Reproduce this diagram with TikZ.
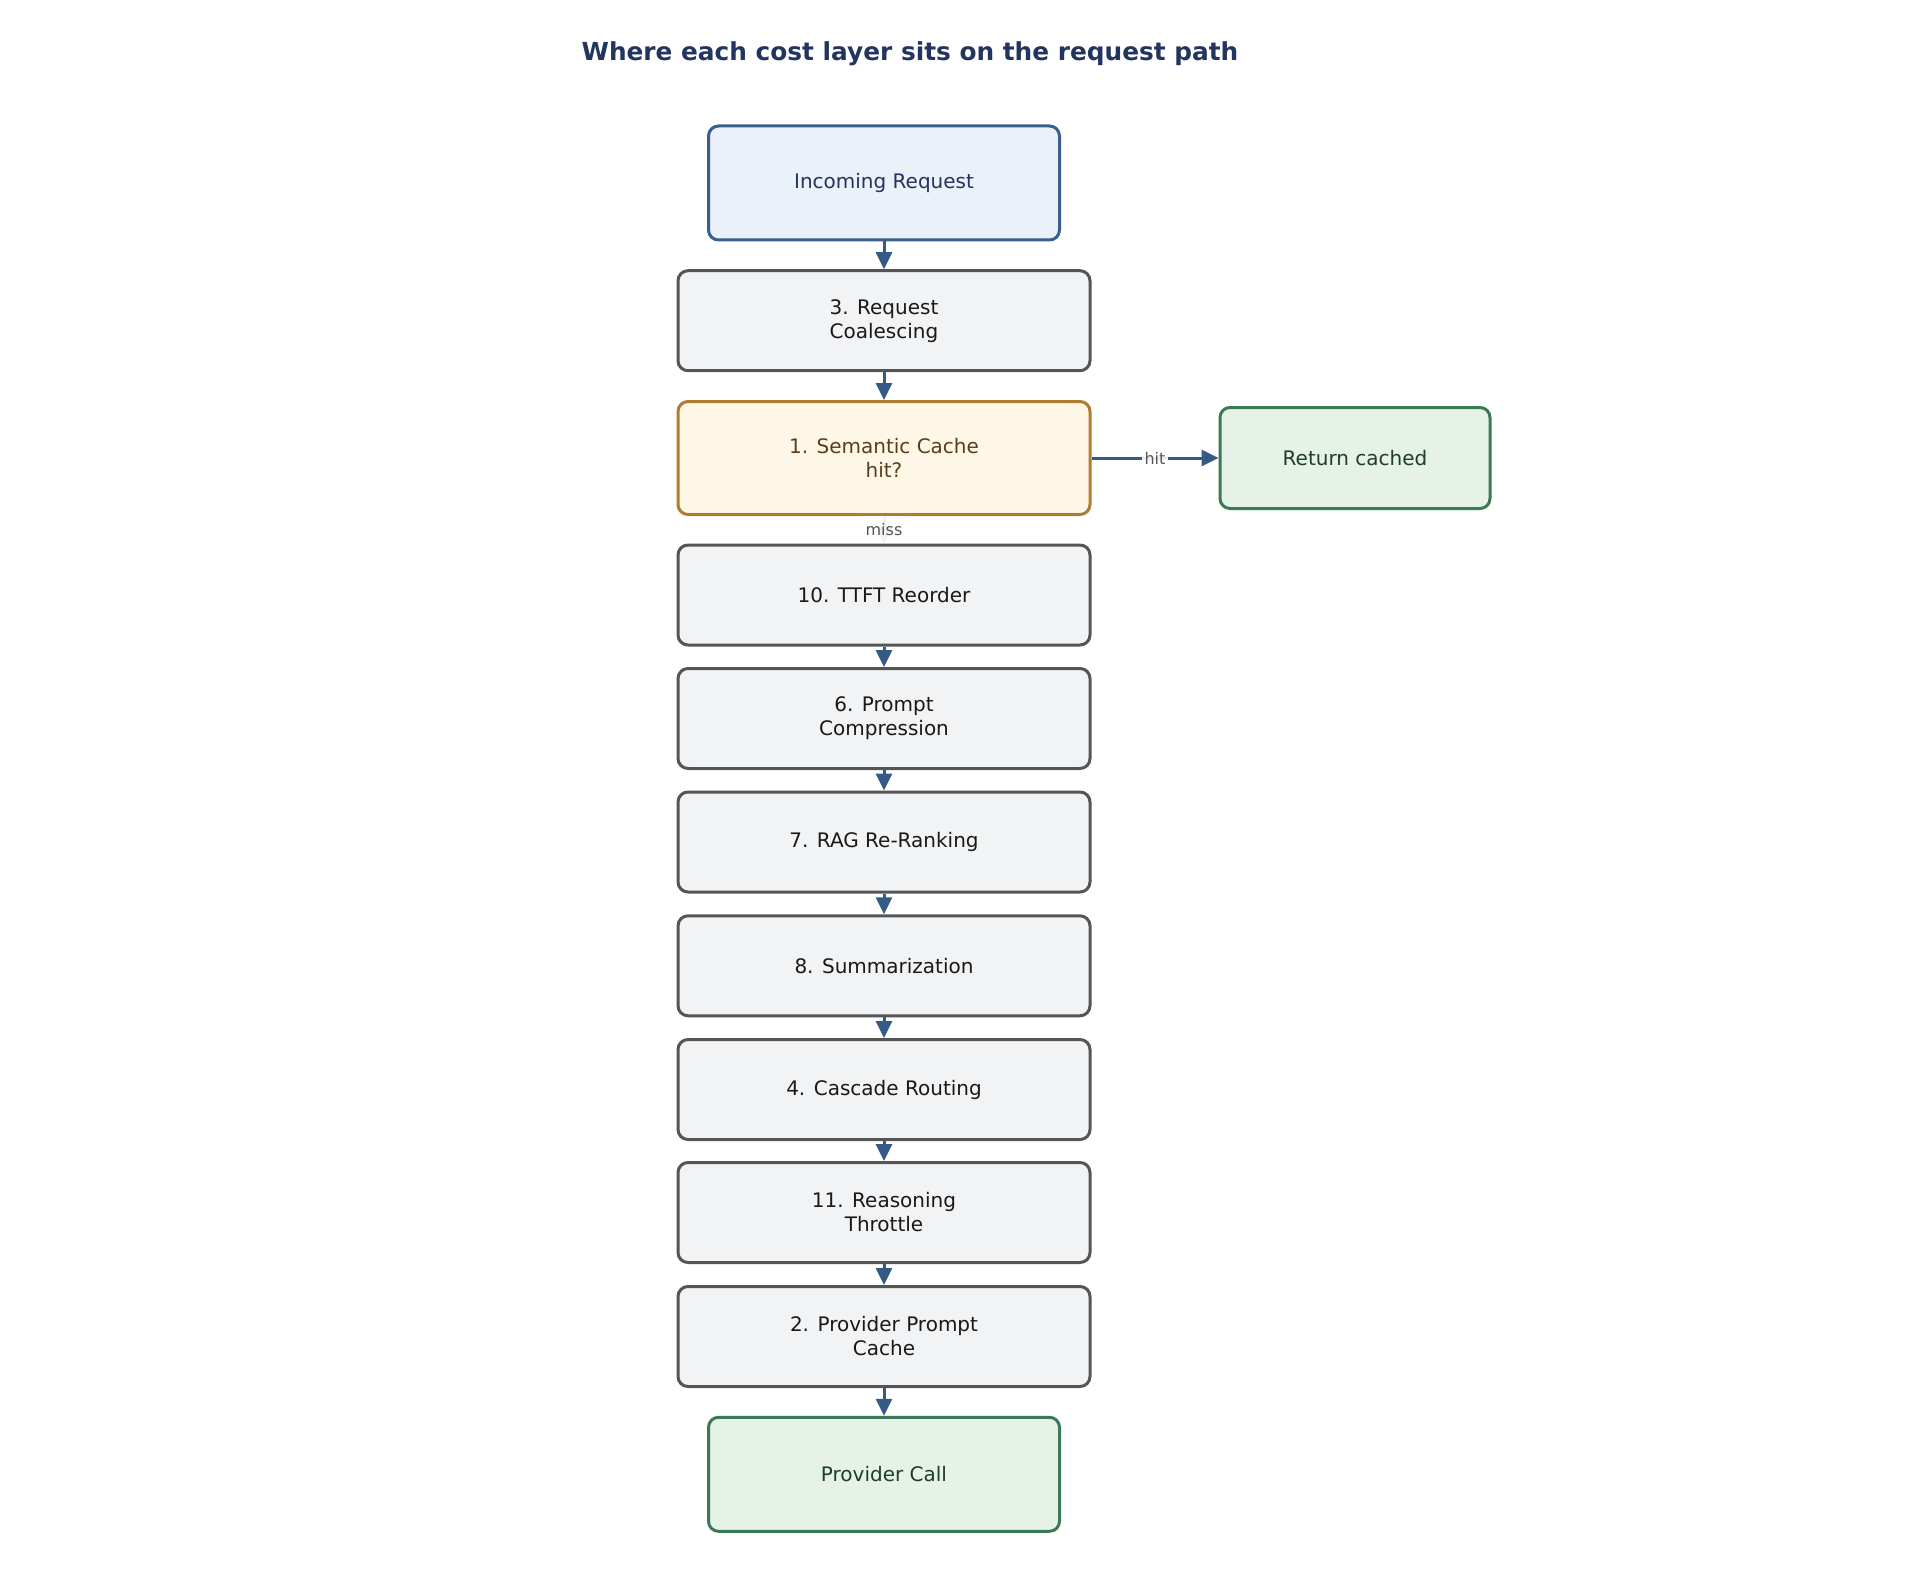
\documentclass[tikz,border=0pt]{standalone}
\usepackage{fontspec}
\setmainfont{DejaVu Sans}
\usepackage{tikz}
\usetikzlibrary{arrows.meta}
\definecolor{titlecol}{HTML}{22355E}
\definecolor{arrowcol}{HTML}{345A85}
\definecolor{labelcol}{HTML}{555555}
\definecolor{inborder}{HTML}{3A5F8F}
\definecolor{infill}{HTML}{EAF1F8}
\definecolor{grayborder}{HTML}{555555}
\definecolor{grayfill}{HTML}{F2F3F5}
\definecolor{cacheborder}{HTML}{B07D2E}
\definecolor{cachefill}{HTML}{FEF7E8}
\definecolor{cachetext}{HTML}{5A3E1B}
\definecolor{okborder}{HTML}{3A7A55}
\definecolor{okfill}{HTML}{E6F2E8}
\definecolor{oktext}{HTML}{1E3D2A}
\newcommand{\boxwd}{206pt}
\newcommand{\boxht}{50pt}

\begin{document}
\begin{tikzpicture}[x=0.5pt, y=-0.5pt,
  layer/.style={draw=grayborder, fill=grayfill, text=black!90, line width=1.5pt, rounded corners=5pt,
    minimum width=\boxwd, minimum height=\boxht, align=center, font=\fontsize{10}{12}\selectfont},
  inbox/.style={layer, draw=inborder, fill=infill, text=titlecol, minimum width=175.5pt, minimum height=57pt},
  cachebox/.style={layer, draw=cacheborder, fill=cachefill, text=cachetext, minimum height=56.5pt},
  okbox/.style={layer, draw=okborder, fill=okfill, text=oktext},
  flow/.style={-{Triangle[length=8.5pt, width=8pt]}, draw=arrowcol, line width=1.5pt},
  edgelabel/.style={fill=white, fill opacity=0.9, text opacity=1, text=labelcol, inner xsep=1.5pt,
    inner ysep=2pt, font=\fontsize{8}{9}\selectfont}]
\useasboundingbox (0,0) rectangle (1912,1578);
\node[font=\bfseries\fontsize{12.4}{15}\selectfont, text=titlecol] (title) at (910, 54) {Where each cost layer sits on the request path};
%path
\node[inbox] (incoming) at (884, 183) {Incoming Request};
\node[layer] (coalesce) at (884, 320.7) {3. Request\\Coalescing};
\node[cachebox] (semcache) at (884, 458) {1. Semantic Cache\\hit?};
\node[okbox, minimum width=135pt, minimum height=50.5pt] (cached) at (1355, 458) {Return cached};
\node[layer] (ttft) at (884, 595) {10. TTFT Reorder};
\node[layer] (compress) at (884, 718.5) {6. Prompt\\Compression};
\node[layer] (rerank) at (884, 842) {7. RAG Re-Ranking};
\node[layer] (summary) at (884, 965.8) {8. Summarization};
\node[layer] (cascade) at (884, 1089.5) {4. Cascade Routing};
\node[layer] (throttle) at (884, 1212.5) {11. Reasoning\\Throttle};
\node[layer] (provcache) at (884, 1336.5) {2. Provider Prompt\\Cache};
\node[okbox, minimum width=175.5pt, minimum height=57pt] (provcall) at (884, 1474.3) {Provider Call};
%arrows
\draw[flow] (incoming) -- (coalesce);
\draw[flow] (coalesce) -- (semcache);
\draw[flow] (semcache) -- node[edgelabel] {hit} (cached);
\draw[flow] (semcache) -- node[edgelabel, minimum height=13.5pt, inner ysep=0pt, fill opacity=0.93] {miss} (ttft);
\draw[flow] (ttft) -- (compress);
\draw[flow] (compress) -- (rerank);
\draw[flow] (rerank) -- (summary);
\draw[flow] (summary) -- (cascade);
\draw[flow] (cascade) -- (throttle);
\draw[flow] (throttle) -- (provcache);
\draw[flow] (provcache) -- (provcall);
\end{tikzpicture}
\end{document}
